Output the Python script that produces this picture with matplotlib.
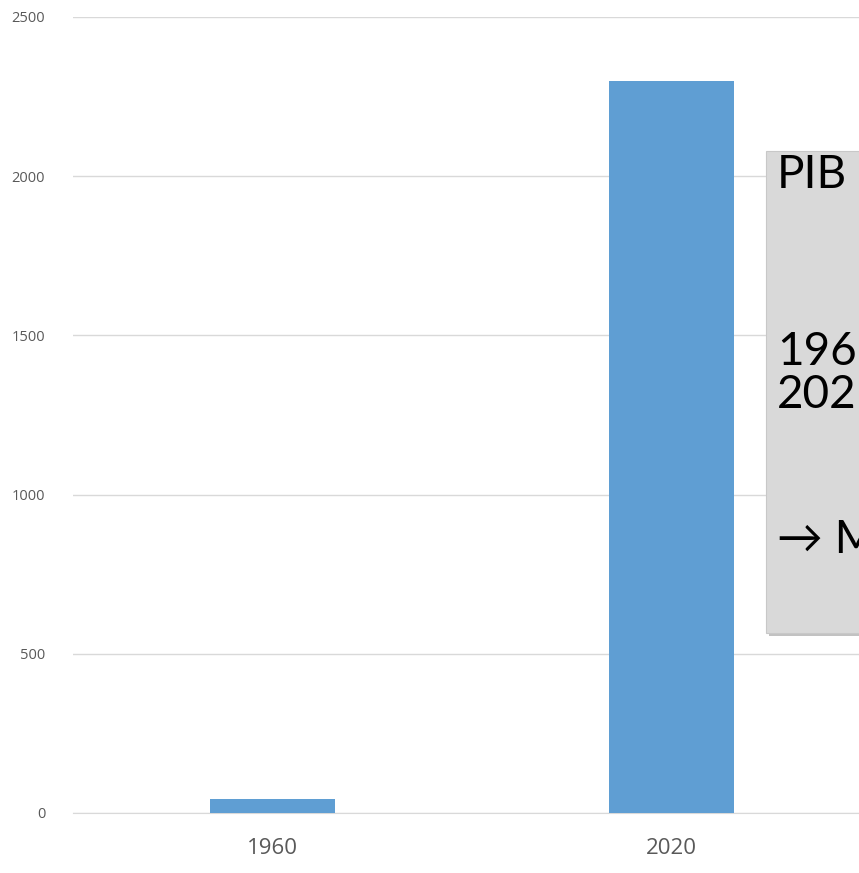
import matplotlib.pyplot as plt
from matplotlib.patches import FancyBboxPatch

# Data
years = ["1960", "2020"]
pib = [44, 2300]
y_ticks = [0, 500, 1000, 1500, 2000, 2500]

box_lines = ["PIB", "196", "202", "→ M"]

fig = plt.figure(figsize=(8.59, 8.73), dpi=100)
ax = fig.add_axes([73 / 859, 1 - 813 / 873, 1 - 73 / 859, (813 - 17) / 873])

x = list(range(len(years)))
ax.bar(x, pib, width=0.313, color="#5f9ed3", zorder=3)

ax.set_xlim(-0.5, -0.5 + (859 - 73) / 399)
ax.set_ylim(0, 2500)
ax.set_yticks(y_ticks)
ax.set_yticklabels([str(v) for v in y_ticks], fontsize=10.5, color="#595959", family="Open Sans")
ax.set_xticks(x)
ax.set_xticklabels(years, fontsize=16, color="#595959", family="Open Sans")
ax.tick_params(axis="y", length=0, pad=20)
ax.tick_params(axis="x", length=0, pad=18)
ax.grid(axis="y", color="#d9d9d9", linewidth=1, zorder=0)
for s in ax.spines.values():
    s.set_visible(False)
ax.spines["bottom"].set_visible(True)
ax.spines["bottom"].set_color("#d9d9d9")

# Text box (partly off the figure)
bx, by = 766 / 859, 1 - 633 / 873
bw, bh = 0.3, (633 - 151) / 873
shadow = FancyBboxPatch((bx + 3 / 859, by - 3 / 873), bw, bh, boxstyle="square,pad=0",
                        transform=fig.transFigure, facecolor="#9a9a9a", edgecolor="none",
                        alpha=0.6, zorder=5)
box = FancyBboxPatch((bx, by), bw, bh, boxstyle="square,pad=0",
                     transform=fig.transFigure, facecolor="#d9d9d9", edgecolor="#c8c8c8",
                     linewidth=0.8, zorder=6)
fig.patches.extend([shadow, box])

text_y = [175, 352, 395, 540]
for line, yy in zip(box_lines, text_y):
    fig.text(777 / 859, 1 - yy / 873, line, fontsize=33, ha="left", va="center",
             color="#000000", family=["Lato", "DejaVu Sans"], zorder=7)

fig.savefig("out.png", dpi=100)
